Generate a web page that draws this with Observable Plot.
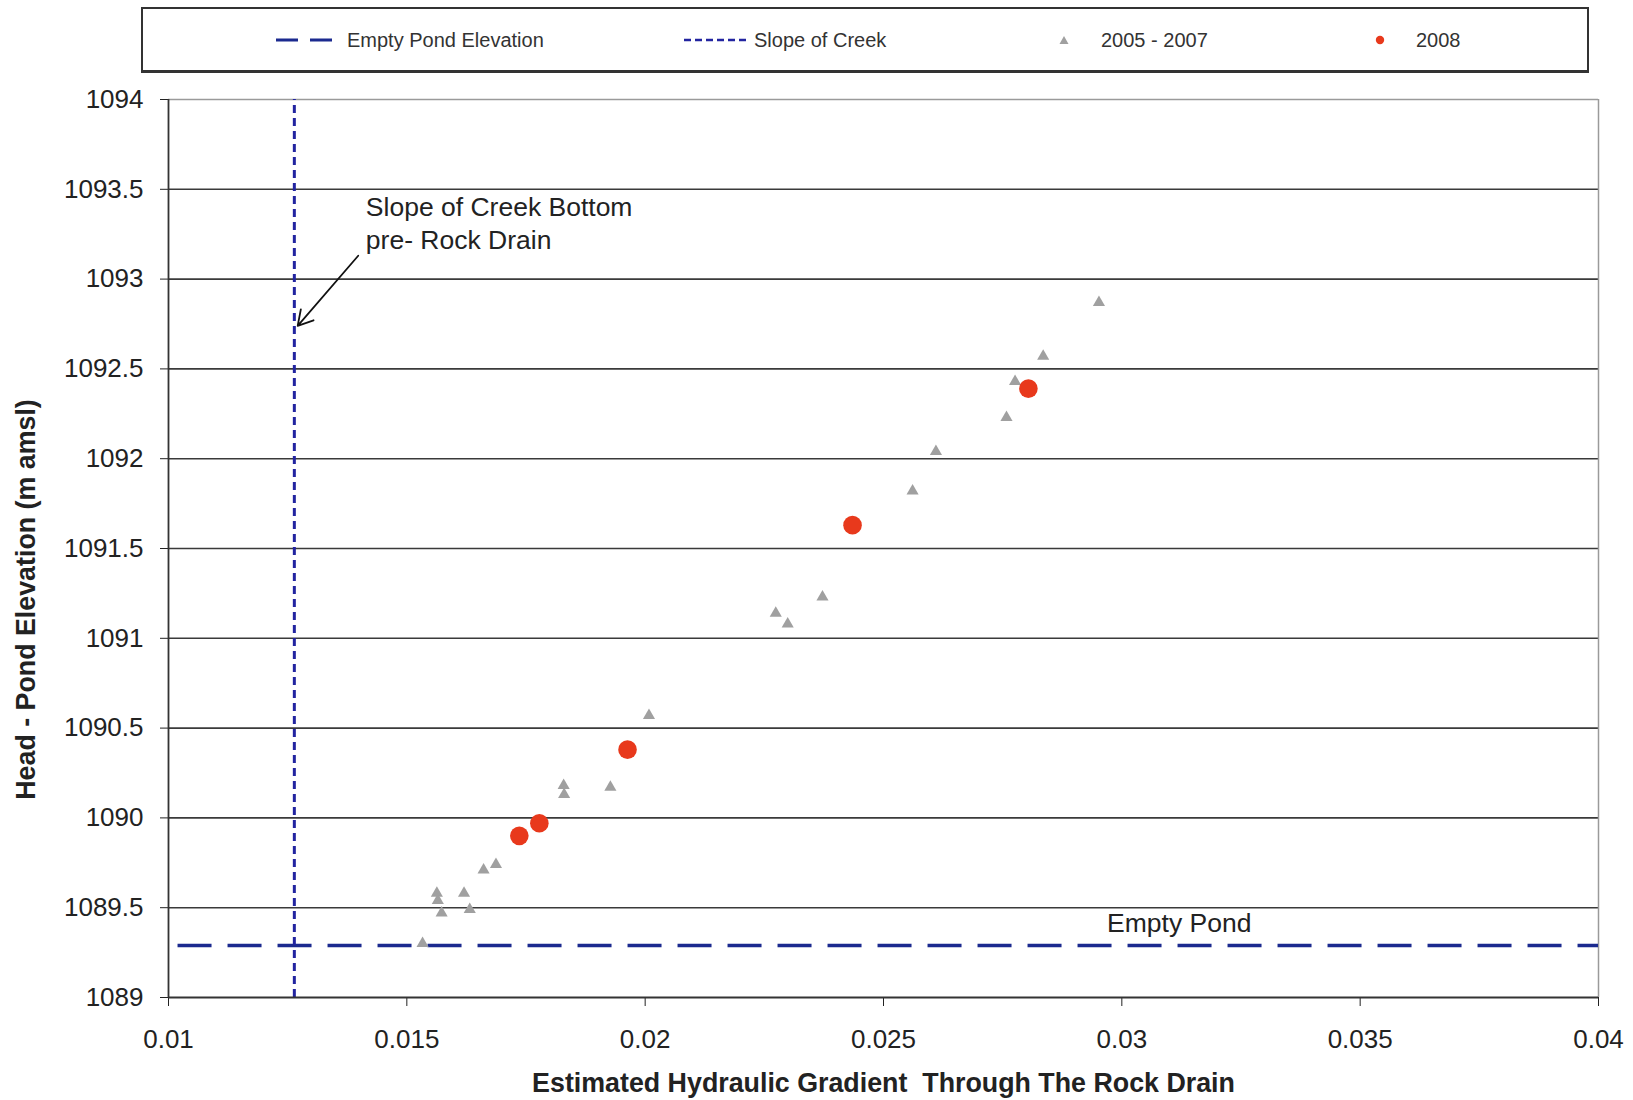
<!DOCTYPE html>
<html>
<head>
<meta charset="utf-8">
<script src="https://cdn.jsdelivr.net/npm/d3@7"></script>
<script src="https://cdn.jsdelivr.net/npm/@observablehq/plot@0.6"></script>
<style>
  html, body { margin: 0; padding: 0; background: #fff; }
  body { width: 1633px; height: 1100px; overflow: hidden; font-family: "Liberation Sans", Arial, sans-serif; }
  #legend { position: relative; width: 1633px; height: 80px; }
  #legend .box { position: absolute; left: 141px; top: 7px; width: 1444px; height: 61px; border: 2px solid #333; border-bottom-width: 3px; border-right-width: 2.5px; }
  #legend .item { position: absolute; top: 0; height: 80px; display: flex; align-items: center; font-size: 20px; color: #333; }
  #legend svg { display: block; }
  #chart { position: absolute; left: 0; top: 80px; }
</style>
</head>
<body>
<div id="legend"></div>
<div id="chart"></div>
<script>
// ---- data ----
const seriesNames = ["Empty Pond Elevation", "Slope of Creek", "2005 - 2007", "2008"];

// 2005 - 2007 observations (gradient, head elevation)
const x2005_2007 = [0.01533, 0.01563, 0.01565, 0.01573, 0.01620, 0.01632, 0.01661, 0.01687,
                    0.01829, 0.01830, 0.01927, 0.02008, 0.02274, 0.02299, 0.02372, 0.02561,
                    0.02610, 0.02758, 0.02776, 0.02835, 0.02952];
const y2005_2007 = [1089.30, 1089.58, 1089.54, 1089.47, 1089.58, 1089.49, 1089.71, 1089.74,
                    1090.18, 1090.13, 1090.17, 1090.57, 1091.14, 1091.08, 1091.23, 1091.82,
                    1092.04, 1092.23, 1092.43, 1092.57, 1092.87];

// 2008 observations
const x2008 = [0.01736, 0.01778, 0.01963, 0.02435, 0.02804];
const y2008 = [1089.90, 1089.97, 1090.38, 1091.63, 1092.39];

// reference lines
const emptyPondElevation = 1089.29;
const emptyPondFrom = 0.0102;
const creekSlope = 0.01264;

// axes
const xTicks = [0.01, 0.015, 0.02, 0.025, 0.03, 0.035, 0.04];
const yTicks = [1089, 1089.5, 1090, 1090.5, 1091, 1091.5, 1092, 1092.5, 1093, 1093.5, 1094];
const xTitle = "Estimated Hydraulic Gradient  Through The Rock Drain";
const yTitle = "Head - Pond Elevation (m amsl)";

// annotations
const creekNote = "Slope of Creek Bottom\npre- Rock Drain";
const creekNotePos = [0.01414, 1093.32];
const creekArrow = [0.01398, 1093.13, 0.01271, 1092.74];
const pondNote = "Empty Pond";
const pondNotePos = [0.02969, 1089.41];

// ---- build ----
const pts0507 = x2005_2007.map((x, i) => ({x, y: y2005_2007[i]}));
const pts2008 = x2008.map((x, i) => ({x, y: y2008[i]}));
const navy = "#1b2a8f";
const creekBlue = "#2224a0";
const grayTri = "#a0a0a0";
const red = "#e8391c";
const font = "'Liberation Sans', Arial, sans-serif";

const chart = Plot.plot({
  width: 1633,
  height: 1020,
  marginTop: 19,
  marginBottom: 103,
  marginLeft: 168,
  marginRight: 35,
  x: {domain: [xTicks[0], xTicks[xTicks.length - 1]]},
  y: {domain: [yTicks[0], yTicks[yTicks.length - 1]]},
  style: {fontFamily: font, fontSize: "26px", color: "#222", background: "#fff"},
  marks: [
    Plot.ruleY(yTicks.slice(1, -1), {stroke: "#3a3a3a", strokeWidth: 1.6}),
    Plot.ruleY(yTicks.slice(-1), {stroke: "#9a9a9a", strokeWidth: 1.5}),
    Plot.ruleX(xTicks.slice(-1), {stroke: "#9a9a9a", strokeWidth: 1.5}),
    Plot.ruleY([emptyPondElevation], {x1: emptyPondFrom, x2: xTicks[xTicks.length - 1], stroke: navy, strokeWidth: 3.5, strokeDasharray: "34,16"}),
    Plot.ruleX([creekSlope], {y1: yTicks[0], y2: yTicks[yTicks.length - 1], stroke: creekBlue, strokeWidth: 3, strokeDasharray: "8,5"}),
    Plot.dot(pts0507, {x: "x", y: "y", symbol: "triangle", r: 4.5, fill: grayTri, stroke: null}),
    Plot.dot(pts2008, {x: "x", y: "y", r: 9.3, fill: red, stroke: null}),
    Plot.arrow([creekArrow], {x1: d => d[0], y1: d => d[1], x2: d => d[2], y2: d => d[3], stroke: "#111", strokeWidth: 1.8, headLength: 14, bend: 0}),
    Plot.text([creekNote], {x: creekNotePos[0], y: creekNotePos[1], text: d => d, textAnchor: "start", lineAnchor: "middle", lineHeight: 1.24, fontSize: 26.5, fill: "#222"}),
    Plot.text([pondNote], {x: pondNotePos[0], y: pondNotePos[1], text: d => d, textAnchor: "start", fontSize: 26.5, fill: "#222"}),
    Plot.axisY({ticks: yTicks, tickFormat: d => String(d), tickSize: 8, tickPadding: 17, label: null, fontSize: 26}),
    Plot.axisX({ticks: xTicks, tickFormat: d => String(d), tickSize: 9, tickPadding: 23, label: null, fontSize: 26}),
    Plot.ruleX(xTicks.slice(0, 1), {stroke: "#333", strokeWidth: 1.8}),
    Plot.ruleY(yTicks.slice(0, 1), {stroke: "#333", strokeWidth: 1.8}),
    Plot.text([xTitle], {frameAnchor: "bottom", dy: 94, text: d => d, textAnchor: "middle", fontSize: 26.8, fontWeight: "bold", fill: "#222"}),
    Plot.text([yTitle], {frameAnchor: "left", dx: -142, dy: 51, rotate: -90, text: d => d, textAnchor: "middle", fontSize: 26.8, fontWeight: "bold", fill: "#222"})
  ]
});
document.getElementById("chart").appendChild(chart);

// ---- legend (HTML above the svg) ----
const legend = document.getElementById("legend");
legend.innerHTML = `<div class="box"></div>`;
const swatches = [
  {left: 275, textLeft: 347, svg: `<svg width="58" height="10"><line x1="1" y1="5" x2="57" y2="5" stroke="${navy}" stroke-width="3" stroke-dasharray="22,12"/></svg>`},
  {left: 684, textLeft: 754, svg: `<svg width="66" height="10"><line x1="0" y1="5" x2="66" y2="5" stroke="${creekBlue}" stroke-width="2.5" stroke-dasharray="7,4"/></svg>`},
  {left: 1058, textLeft: 1101, svg: `<svg width="12" height="12"><path d="M6,2 L10.5,10 L1.5,10 Z" fill="${grayTri}"/></svg>`},
  {left: 1374, textLeft: 1416, svg: `<svg width="12" height="12"><circle cx="6" cy="6" r="4.2" fill="${red}"/></svg>`}
];
swatches.forEach((s, i) => {
  const sw = document.createElement("div");
  sw.className = "item";
  sw.style.left = s.left + "px";
  sw.innerHTML = s.svg;
  legend.appendChild(sw);
  const t = document.createElement("div");
  t.className = "item";
  t.style.left = s.textLeft + "px";
  t.textContent = seriesNames[i];
  legend.appendChild(t);
});
</script>
</body>
</html>
